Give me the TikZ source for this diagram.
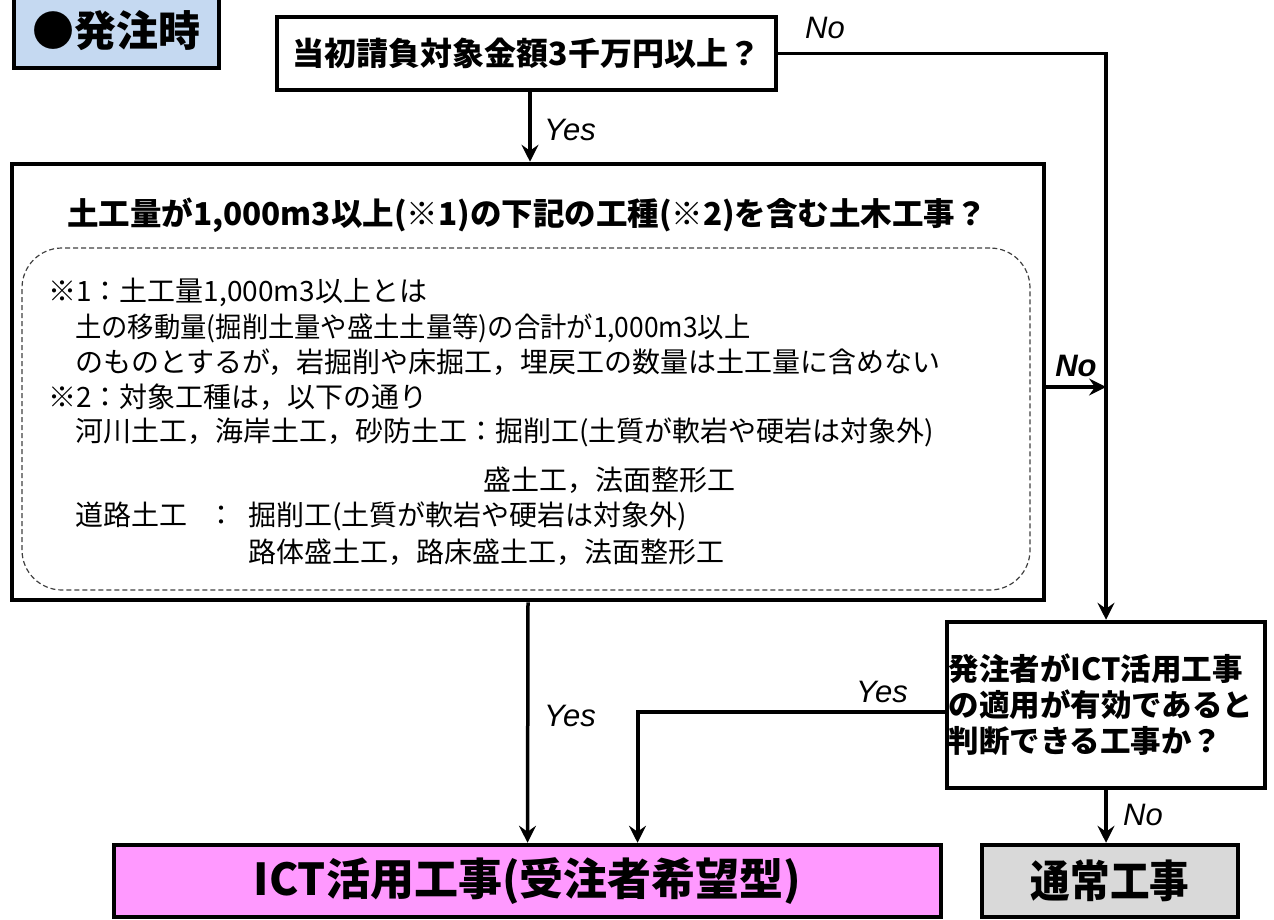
\documentclass[tikz,border=0pt]{standalone}
\usepackage{fontspec}
\setmainfont{Noto Sans CJK JP}
\newfontfamily\latfont{Liberation Sans}
\usetikzlibrary{arrows.meta,calc}
\definecolor{hdrblue}{HTML}{C5D9F1}
\definecolor{ictpink}{HTML}{FF99FF}
\definecolor{normgray}{HTML}{D9D9D9}
\definecolor{dashgray}{HTML}{404040}
\begin{document}
\begin{tikzpicture}[x=1pt,y=-1pt,
  box/.style={draw=black, line width=4.5pt, inner sep=0pt, align=center},
  conn/.style={line width=3.5pt, -{Stealth[length=17pt,width=17pt,inset=6pt]}},
  yn/.style={font=\latfont\itshape\fontsize{31}{31}\selectfont, inner sep=0pt},
  note/.style={anchor=west, inner sep=0pt, font=\fontsize{28}{28}\selectfont},
  ttl/.style={font=\bfseries\fontsize{32}{32}\selectfont},
  big/.style={font=\bfseries\fontsize{44}{44}\selectfont},
]
\useasboundingbox (0,0) rectangle (1274,920);
% boxes
\node[box, fill=hdrblue, minimum width=205, minimum height=74, big] (hdr) at (116.5, 31) {\fontsize{42}{42}\selectfont ●発注時};
\node[box, minimum width=499, minimum height=73, ttl] (q1) at (526.5, 53.5) {当初請負対象金額3千万円以上？};
\node[box, minimum width=1032, minimum height=436] (bigq) at (528, 382) {};
\node[inner sep=0pt, font=\bfseries\fontsize{31.5}{31.5}\selectfont] (bigtitle) at (527, 215) {土工量が1,000m3以上(※1)の下記の工種(※2)を含む土木工事？};
\node[draw=dashgray, dash pattern=on 5pt off 3pt, line width=1.2pt, rounded corners=40pt, minimum width=1008, minimum height=342] (notes) at (526, 419) {};
\node[note] (n1) at (48,292) {※1：土工量1,000m3以上とは};
\node[note] (n2) at (75,328) {\scalebox{0.94}[1]{土の移動量(掘削土量や盛土土量等)の合計が1,000m3以上}};
\node[note] (n3) at (75,362) {のものとするが，岩掘削や床掘工，埋戻工の数量は土工量に含めない};
\node[note] (n4) at (48,397) {※2：対象工種は，以下の通り};
\node[note] (n5) at (75,432) {河川土工，海岸土工，砂防土工：掘削工(土質が軟岩や硬岩は対象外)};
\node[note] (n6) at (483,480) {盛土工，法面整形工};
\node[note] (n7) at (75,516) {道路土工\hspace{20pt}：\hspace{13pt}掘削工(土質が軟岩や硬岩は対象外)};
\node[note] (n8) at (248,552) {路体盛土工，路床盛土工，法面整形工};
\node[box, text width=315pt, inner sep=1.5pt, minimum height=166, align=left, font=\bfseries\fontsize{30.5}{36}\selectfont] (rb) at (1106, 705) {発注者がICT活用工事\\の適用が有効であると\\判断できる工事か？};
\node[box, fill=ictpink, minimum width=827, minimum height=72, big] (ict) at (527.5, 881) {ICT活用工事(受注者希望型)};
\node[box, fill=normgray, minimum width=256, minimum height=72, big] (normal) at (1110, 881) {\scalebox{0.9}[1]{通常工事}};
% connectors
\draw[conn] (q1.south -| 530,0) -- (530,0 |- bigq.north);
\draw[conn] (q1.east) -| (rb.north);
\draw[conn] ([yshift=-5pt]bigq.east) -- ([yshift=-5pt]bigq.east -| rb.north);
\draw[conn] (bigq.south) -- (ict.north);
\draw[conn, line width=4pt] ([yshift=-7pt]rb.west) -| ([xshift=110pt]ict.north);
\draw[conn] (rb.south) -- (rb.south |- normal.north);
% labels
\node[yn] (l1) at (825,28) {No};
\node[yn] (l2) at (570,130) {Yes};
\node[yn, font=\latfont\bfseries\itshape\fontsize{31}{31}\selectfont] (l3) at (1076,366) {No};
\node[yn] (l4) at (570,716) {Yes};
\node[yn] (l5) at (882,692) {Yes};
\node[yn] (l6) at (1143,815) {No};
\end{tikzpicture}
\end{document}
